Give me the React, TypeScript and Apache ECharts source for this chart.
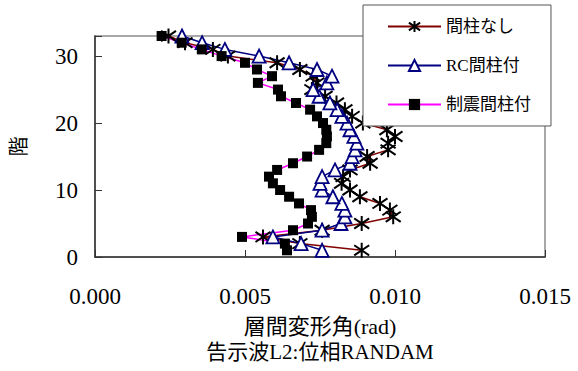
import React, { useEffect, useRef } from 'react';
import * as echarts from 'echarts';

// Floor numbers (階)
const floors = [
  1, 2, 3, 4, 5, 6, 7, 8, 9, 10, 11, 12, 13, 14, 15, 16, 17,
  18, 19, 20, 21, 22, 23, 24, 25, 26, 27, 28, 29, 30, 31, 32, 33,
];

// 層間変形角 (rad) per floor, floor 1 .. 33
const driftNoStud = [
  0.00889, 0.00683, 0.0056, 0.00757, 0.00889, 0.00994, 0.00983, 0.0095, 0.00883, 0.0085,
  0.00822, 0.00827, 0.0085, 0.00917, 0.00907, 0.00977, 0.00977, 0.01, 0.00973, 0.00893,
  0.00857, 0.00833, 0.00805, 0.00767, 0.00723, 0.0074, 0.00727, 0.00683, 0.00607, 0.00443,
  0.00393, 0.003, 0.00245,
];
const driftRcStud = [
  0.00757, 0.00687, 0.00593, 0.00757, 0.0082, 0.00833, 0.00833, 0.00823, 0.00793, 0.00757,
  0.0075, 0.00757, 0.008, 0.0085, 0.00857, 0.00867, 0.00873, 0.00863, 0.0085, 0.0084,
  0.00823, 0.00807, 0.00783, 0.00747, 0.00727, 0.00773, 0.0079, 0.0074, 0.00647, 0.00547,
  0.00433, 0.00357, 0.0029,
];
const driftDamperStud = [
  0.0064, 0.00633, 0.0049, 0.0066, 0.0071, 0.00723, 0.0072, 0.0068, 0.00647, 0.00617,
  0.00593, 0.0058, 0.00607, 0.0066, 0.00707, 0.00747, 0.00771, 0.00773, 0.00771, 0.0076,
  0.0074, 0.00717, 0.0067, 0.0062, 0.0061, 0.00543, 0.0059, 0.0054, 0.005, 0.00422,
  0.00356, 0.00289, 0.00222,
];

const seriesNames = ['間柱なし', 'RC間柱付', '制震間柱付'];
const xAxisName = '層間変形角(rad)';
const yAxisName = '階';
const subTitle = '告示波L2:位相RANDAM';

const FONT = "'Liberation Serif', 'Noto Sans CJK JP', serif";

const toPairs = (vals: number[]) => vals.map((v, i) => [v, floors[i]]);

const starPath = 'path://M5,0L5,10M0.7,1.6L9.3,8.4M0.7,8.4L9.3,1.6';

export default function App() {
  const ref = useRef<HTMLDivElement>(null);
  useEffect(() => {
    if (!ref.current) return;
    const chart = echarts.init(ref.current, null, { renderer: 'svg' });
    chart.setOption({
      animation: false,
      backgroundColor: '#fff',
      textStyle: { fontFamily: FONT },
      grid: {
        left: 95,
        right: 33,
        top: 36,
        bottom: 114,
        show: true,
        borderColor: '#8c8c8c',
        borderWidth: 1.5,
        backgroundColor: 'transparent',
      },
      legend: {
        orient: 'vertical',
        left: 363,
        top: 5,
        padding: [13, 20, 13, 24],
        itemGap: 22,
        itemWidth: 53,
        itemHeight: 14,
        backgroundColor: '#fff',
        borderColor: '#555',
        borderWidth: 1,
        textStyle: { fontSize: 17, fontFamily: FONT, color: '#000' },
        data: seriesNames,
      },
      xAxis: {
        type: 'value',
        min: 0,
        max: 0.015,
        interval: 0.005,
        name: xAxisName,
        nameLocation: 'middle',
        nameGap: 58,
        nameTextStyle: { fontSize: 22, fontFamily: FONT, color: '#000' },
        axisLine: { show: true, lineStyle: { color: '#333', width: 1.5 } },
        axisTick: { show: true, inside: true, length: 7, lineStyle: { color: '#333', width: 1 } },
        axisLabel: {
          fontSize: 23,
          fontFamily: FONT,
          color: '#000',
          margin: 28,
          formatter: (v: number) => v.toFixed(3),
        },
        splitLine: { show: false },
      },
      yAxis: {
        type: 'value',
        min: 0,
        max: 33,
        interval: 10,
        name: yAxisName,
        nameLocation: 'middle',
        nameGap: 66,
        nameRotate: 90,
        nameTextStyle: { fontSize: 20, fontFamily: FONT, color: '#000' },
        axisLine: { show: true, lineStyle: { color: '#333', width: 1.5 } },
        axisTick: { show: true, inside: true, length: 7, lineStyle: { color: '#333', width: 1 } },
        axisLabel: {
          fontSize: 23,
          fontFamily: FONT,
          color: '#000',
          margin: 17,
          formatter: (v: number) => (v % 10 === 0 ? String(v) : ''),
        },
        splitLine: { show: false },
      },
      graphic: [
        {
          type: 'text',
          x: 320,
          y: 352,
          style: {
            text: subTitle,
            font: `21px ${FONT}`,
            fill: '#000',
            textAlign: 'center',
            textVerticalAlign: 'middle',
            align: 'center',
            verticalAlign: 'middle',
          },
        },
      ],
      series: [
        {
          name: seriesNames[0],
          type: 'line',
          data: toPairs(driftNoStud),
          symbol: starPath,
          symbolSize: 15,
          lineStyle: { color: '#800000', width: 1.5 },
          itemStyle: { color: 'transparent', borderColor: '#000', borderWidth: 2 },
        },
        {
          name: seriesNames[1],
          type: 'line',
          data: toPairs(driftRcStud),
          symbol: 'triangle',
          symbolSize: 13,
          lineStyle: { color: '#000080', width: 1.5 },
          itemStyle: { color: '#fff', borderColor: '#000080', borderWidth: 1.8 },
        },
        {
          name: seriesNames[2],
          type: 'line',
          data: toPairs(driftDamperStud),
          symbol: 'rect',
          symbolSize: 10,
          lineStyle: { color: '#ff00ff', width: 1.5 },
          itemStyle: { color: '#000', borderColor: '#000', borderWidth: 0 },
        },
      ],
    });
    return () => chart.dispose();
  }, []);
  return (
    <div
      ref={ref}
      style={{ position: 'fixed', left: 0, top: 0, width: 578, height: 371 }}
    />
  );
}
